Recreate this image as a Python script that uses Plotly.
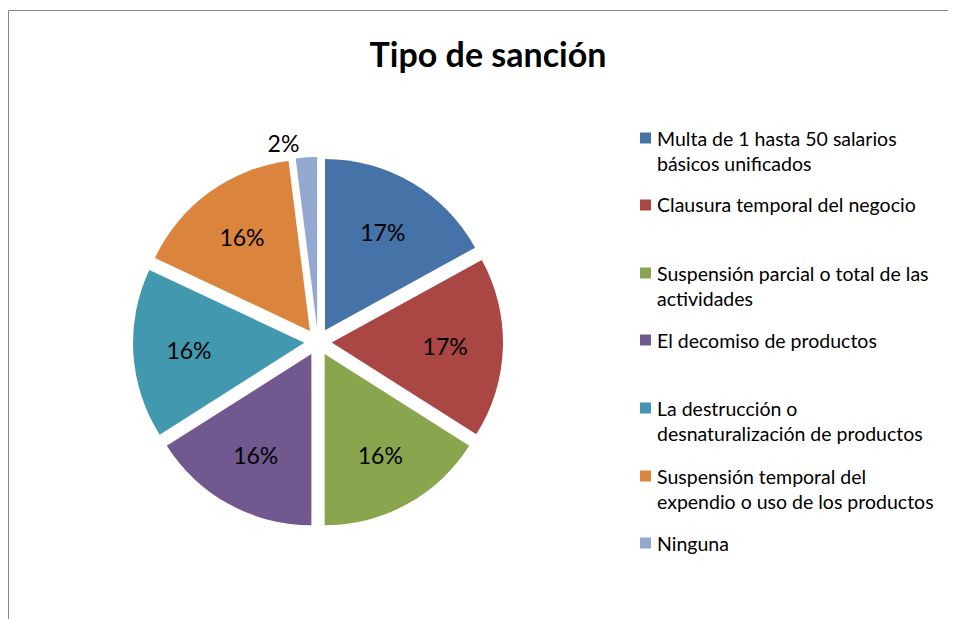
import plotly.graph_objects as go

categories = [
    "Multa de 1 hasta 50 salarios<br>básicos unificados",
    "Clausura temporal del negocio",
    "Suspensión parcial o total de las<br>actividades",
    "El decomiso de productos",
    "La destrucción o<br>desnaturalización de productos",
    "Suspensión temporal del<br>expendio o uso de los productos",
    "Ninguna",
]
values = [17, 17, 16, 16, 16, 16, 2]
colors = ["#4572A7", "#AA4643", "#89A54E", "#71588F", "#4198AF", "#DB843D", "#93A9CF"]
title_text = "Tipo de sanción"

W, H = 956, 619
OFF = 8  # page body margin

def px(x):
    return (x - OFF) / W

def py(y):
    return 1 - (y - OFF) / H

fig = go.Figure()
fig.add_trace(go.Pie(
    labels=categories,
    values=values,
    sort=False,
    direction="clockwise",
    rotation=0,
    marker=dict(colors=colors, line=dict(color="white", width=0)),
    pull=[0.08] * len(values),
    textinfo="percent",
    texttemplate="%{percent:.0%}",
    textposition=["inside"] * 6 + ["outside"],
    insidetextorientation="horizontal",
    textfont=dict(family="Lato, sans-serif", size=23, color="black"),
    outsidetextfont=dict(family="Lato, sans-serif", size=23, color="black"),
    domain=dict(x=[px(133), px(503)], y=[py(527), py(157)]),
    showlegend=False,
))

# legend built from the category / colour arrays
first_line_y = [138, 205, 273, 340, 408, 476, 543]
line_h = 25.4
shapes = [dict(type="rect", xref="paper", yref="paper",
               x0=0.5 / W, x1=1.02, y0=-0.02, y1=1 - 2.5 / H,
               line=dict(color="#868686", width=1))]
annotations = []
for lab, col, y0 in zip(categories, colors, first_line_y):
    n = lab.count("<br>") + 1
    shapes.append(dict(type="rect", xref="paper", yref="paper",
                       x0=px(640), x1=px(651), y0=py(y0 + 5.5), y1=py(y0 - 5.5),
                       fillcolor=col, line=dict(width=0)))
    annotations.append(dict(xref="paper", yref="paper", x=px(655), xanchor="left",
                            y=py(y0 + (n - 1) * line_h / 2), yanchor="middle",
                            text=lab, showarrow=False, align="left",
                            font=dict(family="Lato, sans-serif", size=19.5, color="black")))

fig.update_layout(
    width=W, height=H,
    margin=dict(l=0, r=0, t=0, b=0),
    paper_bgcolor="white",
    plot_bgcolor="white",
    font=dict(family="Lato, sans-serif", color="black"),
    title=dict(text="<b>" + title_text + "</b>", x=px(488), xanchor="center",
               y=py(55), yanchor="middle",
               font=dict(family="Lato, sans-serif", size=34, color="black")),
    showlegend=False,
    shapes=shapes,
    annotations=annotations,
)

fig.write_html("out.html")
